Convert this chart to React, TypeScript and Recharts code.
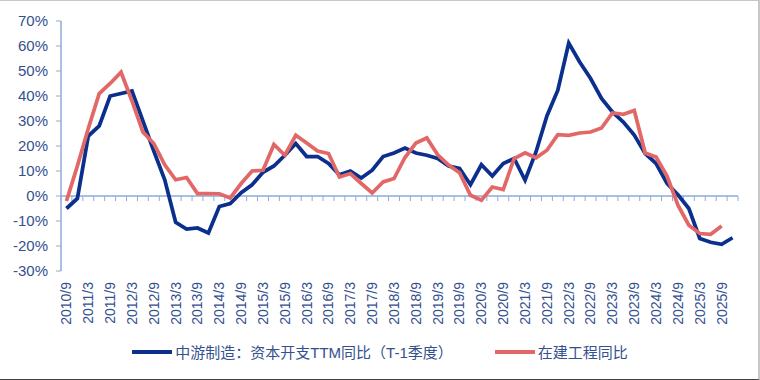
import React from 'react';
import { LineChart, Line, XAxis, YAxis, ReferenceLine, Legend } from 'recharts';

const categories = [
  '2010/9', '2010/12', '2011/3', '2011/6', '2011/9', '2011/12', '2012/3', '2012/6', '2012/9', '2012/12',
  '2013/3', '2013/6', '2013/9', '2013/12', '2014/3', '2014/6', '2014/9', '2014/12', '2015/3', '2015/6',
  '2015/9', '2015/12', '2016/3', '2016/6', '2016/9', '2016/12', '2017/3', '2017/6', '2017/9', '2017/12',
  '2018/3', '2018/6', '2018/9', '2018/12', '2019/3', '2019/6', '2019/9', '2019/12', '2020/3', '2020/6',
  '2020/9', '2020/12', '2021/3', '2021/6', '2021/9', '2021/12', '2022/3', '2022/6', '2022/9', '2022/12',
  '2023/3', '2023/6', '2023/9', '2023/12', '2024/3', '2024/6', '2024/9', '2024/12', '2025/3', '2025/6',
  '2025/9', '2025/12',
];

// 中游制造：资本开支TTM同比（T-1季度），%
const capexYoy = [
  -5, -1, 24, 28, 40, 41, 42, 30, 18, 6.5,
  -10.5, -13.2, -12.8, -14.8, -4.2, -3, 1.3, 4.5, 9.5, 12,
  16.3, 21, 15.8, 15.8, 13, 8.5, 10, 7.2, 10.3, 15.8,
  17.2, 19.2, 17.2, 16.3, 15, 12, 11, 4.5, 12.5, 8,
  13, 15, 6.3, 17.6, 32, 42.3, 61.2, 53.6, 47, 39,
  33.6, 29.6, 24.4, 17, 13, 5, 0.5, -5, -17, -18.5,
  -19.3, -16.7,
];

// 在建工程同比，%
const cipYoy = [
  -2, 12, 27, 41, 45, 49.5, 38, 25.6, 21, 12.5,
  6.5, 7.4, 1, 1, 0.9, -0.8, 5, 10, 10.3, 20.6,
  16.3, 24.3, 21.2, 18, 17, 7.6, 9, 5, 1.2, 5.6,
  7, 15.4, 21.2, 23.2, 16.5, 12.4, 9.3, 0.3, -1.7, 3.6,
  2.6, 15, 17.3, 15.3, 18.3, 24.5, 24.3, 25.2, 25.6, 27.2,
  33.2, 32.7, 34.2, 17.2, 15.6, 8, -3.7, -11.7, -15, -15.3,
  -12,
];

const yTicks = [-30, -20, -10, 0, 10, 20, 30, 40, 50, 60, 70];

const seriesNames = ['中游制造：资本开支TTM同比（T-1季度）', '在建工程同比'];
const BLUE = '#0b2f8c';
const RED = '#e26868';
const AXIS = '#8eaadb';
const TEXT = '#34508f';
const FONT = '"Liberation Sans", Arial, "Noto Sans CJK SC", sans-serif';

const data = categories.map((c, i) => ({
  date: c,
  capex: capexYoy[i],
  cip: i < cipYoy.length ? cipYoy[i] : null,
}));

const XTick = (props: any) => {
  const { x, y, payload } = props;
  return (
    <text
      transform={`translate(${x},${y + 3}) rotate(-90)`}
      textAnchor="end"
      dy="0.35em"
      fill={TEXT}
      fontSize={14}
      fontFamily={FONT}
    >
      {payload.value}
    </text>
  );
};

// zero line with the small category tick marks hanging below it
const ZeroAxis = (props: any) => {
  const { x1, y1, x2, y2 } = props;
  const n = categories.length;
  const step = (x2 - x1) / n;
  const marks = [];
  for (let k = 0; k <= n; k++) {
    const x = x1 + k * step;
    marks.push(<line key={k} x1={x} y1={y1} x2={x} y2={y1 + 5} stroke={AXIS} strokeWidth={1} />);
  }
  return (
    <g>
      <line x1={x1} y1={y1} x2={x2} y2={y2} stroke={AXIS} strokeWidth={1.5} />
      {marks}
    </g>
  );
};

const LegendBox = () => {
  const colors = [BLUE, RED];
  return (
    <div style={{ display: 'flex', justifyContent: 'center', alignItems: 'center', fontFamily: FONT, fontSize: 15, color: TEXT }}>
      {seriesNames.map((name, i) => (
        <div key={name} style={{ display: 'flex', alignItems: 'center', marginLeft: i ? 42 : 0 }}>
          <svg width={40} height={6} style={{ marginRight: 3 }}>
            <line x1={0} y1={3} x2={40} y2={3} stroke={colors[i]} strokeWidth={4} />
          </svg>
          <span>{name}</span>
        </div>
      ))}
    </div>
  );
};

export default function App() {
  return (
    <div style={{ position: 'relative', width: 760, height: 380, background: '#fff', fontFamily: FONT }}>
      <style>{'body{margin:0;}'}</style>
      <LineChart width={760} height={380} data={data} margin={{ top: 21, right: 22, left: 0, bottom: 0 }}>
        <XAxis
          dataKey="date"
          scale="band"
          interval={1}
          height={109}
          axisLine={false}
          tickLine={false}
          tick={<XTick />}
        />
        <YAxis
          width={61}
          domain={[-30, 70]}
          ticks={yTicks}
          interval={0}
          tickFormatter={(v: number) => `${v}%`}
          axisLine={{ stroke: AXIS, strokeWidth: 1.5 }}
          tickLine={{ stroke: AXIS }}
          tickSize={5}
          tickMargin={8}
          tick={{ fill: TEXT, fontSize: 15, fontFamily: FONT }}
        />
        <ReferenceLine y={0} shape={(p: any) => <ZeroAxis {...p} />} />
        <Line
          type="linear"
          dataKey="capex"
          name={seriesNames[0]}
          stroke={BLUE}
          strokeWidth={3.75}
          dot={false}
          isAnimationActive={false}
        />
        <Line
          type="linear"
          dataKey="cip"
          name={seriesNames[1]}
          stroke={RED}
          strokeWidth={3.75}
          dot={false}
          connectNulls={false}
          isAnimationActive={false}
        />
        <Legend
          layout="horizontal"
          verticalAlign="middle"
          align="center"
          content={<LegendBox />}
          wrapperStyle={{ top: 341, left: 0, width: 760 }}
        />
      </LineChart>
      <div
        style={{
          position: 'absolute', left: 0, top: 0, width: 760, height: 380, boxSizing: 'border-box',
          borderTop: '1px solid #c8c8c8', borderRight: '2px solid #c8c8c8', borderBottom: '1px solid #444',
          pointerEvents: 'none',
        }}
      />
    </div>
  );
}
